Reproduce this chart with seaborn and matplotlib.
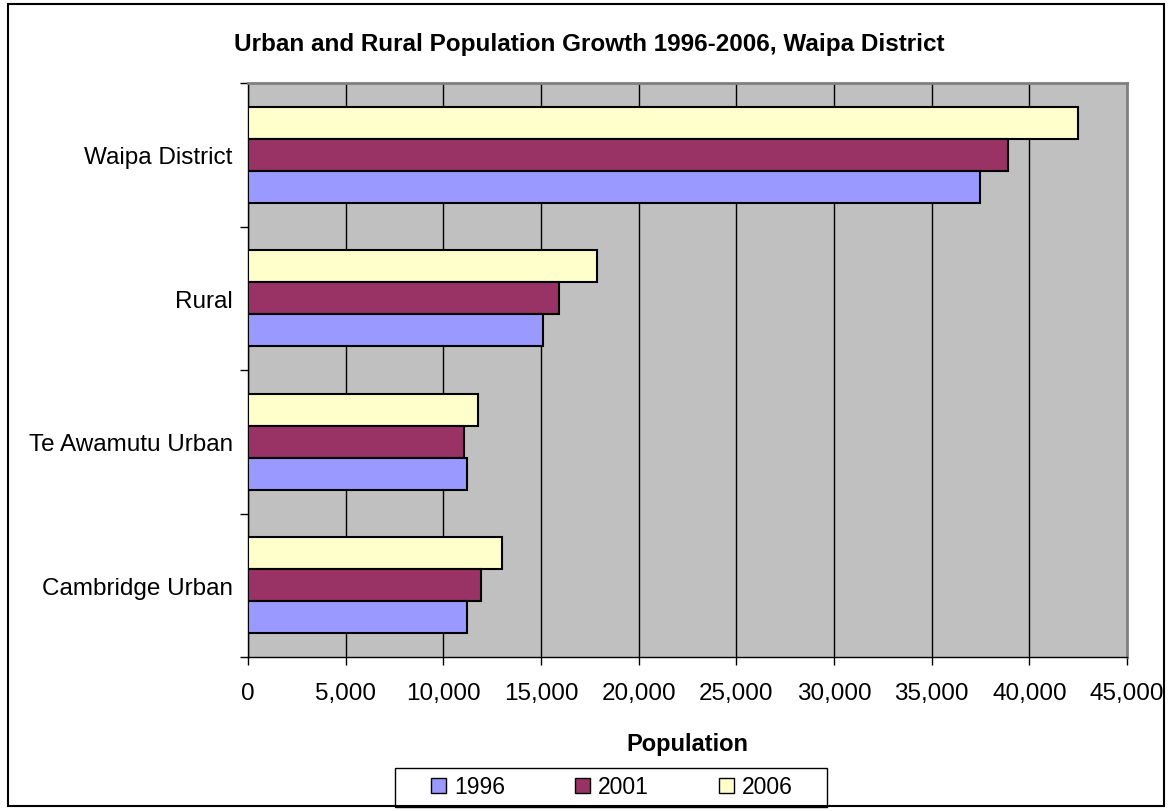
import matplotlib
matplotlib.use("Agg")
import matplotlib.pyplot as plt
import seaborn as sns
import pandas as pd
from matplotlib.patches import Rectangle, Patch
from matplotlib.ticker import FuncFormatter, MultipleLocator, FixedLocator

categories = ["Waipa District", "Rural", "Te Awamutu Urban", "Cambridge Urban"]
years = ["1996", "2001", "2006"]
pop_1996 = [37480, 15080, 11190, 11190]
pop_2001 = [38930, 15930, 11050, 11920]
pop_2006 = [42510, 17850, 11770, 12980]
colors = {"1996": "#9999FF", "2001": "#993366", "2006": "#FFFFCC"}

rows = []
for yr, vals in zip(years, [pop_1996, pop_2001, pop_2006]):
    for c, v in zip(categories, vals):
        rows.append({"Area": c, "Year": yr, "Population": v})
df = pd.DataFrame(rows)

sns.set_style("white")
plt.rcParams["font.family"] = ["Liberation Sans", "DejaVu Sans"]
plt.rcParams["text.color"] = "black"
plt.rcParams["axes.labelcolor"] = "black"
plt.rcParams["xtick.color"] = "black"
plt.rcParams["ytick.color"] = "black"

fig = plt.figure(figsize=(11.7, 8.12), dpi=100)
ax = fig.add_axes([248/1170, 1-658/812, (1127-248)/1170, (658-84)/812])
ax.set_facecolor("#C0C0C0")

hue_order = ["2006", "2001", "1996"]
sns.barplot(data=df, y="Area", x="Population", hue="Year", order=categories,
            hue_order=hue_order, palette=colors, saturation=1, orient="h", width=0.667,
            edgecolor="black", linewidth=1.5, ax=ax, legend=False, zorder=3)

ax.set_xlim(0, 45000)
ax.set_ylim(3.5, -0.5)
ax.xaxis.set_major_locator(MultipleLocator(5000))
ax.xaxis.set_major_formatter(FuncFormatter(lambda v, p: f"{int(v):,}"))
ax.grid(axis="x", color="black", linewidth=1, zorder=0)
ax.set_axisbelow(True)

ax.yaxis.set_minor_locator(FixedLocator([-0.5, 0.5, 1.5, 2.5, 3.5]))
ax.tick_params(axis="y", which="major", length=0, pad=11, labelsize=17.5)
ax.tick_params(axis="y", which="minor", length=6, width=1, color="black", left=True)
ax.tick_params(axis="x", which="major", length=6, width=1, color="black", bottom=True,
               labelsize=17.5, pad=12)

for s in ["left", "bottom"]:
    ax.spines[s].set_color("black")
    ax.spines[s].set_linewidth(1)
for s in ["top", "right"]:
    ax.spines[s].set_color("#808080")
    ax.spines[s].set_linewidth(2)

ax.set_ylabel("")
ax.set_xlabel("Population", fontsize=17, fontweight="bold", labelpad=20)

fig.text(589/1170, 1-45/812, "Urban and Rural Population Growth 1996-2006, Waipa District",
         ha="center", va="center", fontsize=17.5, fontweight="bold")

handles = [Patch(facecolor=colors[y], edgecolor="black", linewidth=1) for y in years]
leg = fig.legend(handles, years, loc="center", bbox_to_anchor=(612/1170, 1-788/812),
                 ncol=3, frameon=False, fontsize=16.5,
                 handlelength=0.65, handleheight=0.65, handletextpad=0.35,
                 columnspacing=3.07, borderpad=0.35, borderaxespad=0)

# legend frame
fig.patches.append(Rectangle((395/1170, 1-808/812), (827-395)/1170, (808-769)/812,
                             transform=fig.transFigure, facecolor="white",
                             edgecolor="black", linewidth=1, zorder=0))

fig.patches.append(Rectangle((8/1170, 1-807/812), (1164-8)/1170, (807-5)/812,
                             transform=fig.transFigure, fill=False,
                             edgecolor="black", linewidth=1.5))

fig.savefig("out.png", dpi=100)
